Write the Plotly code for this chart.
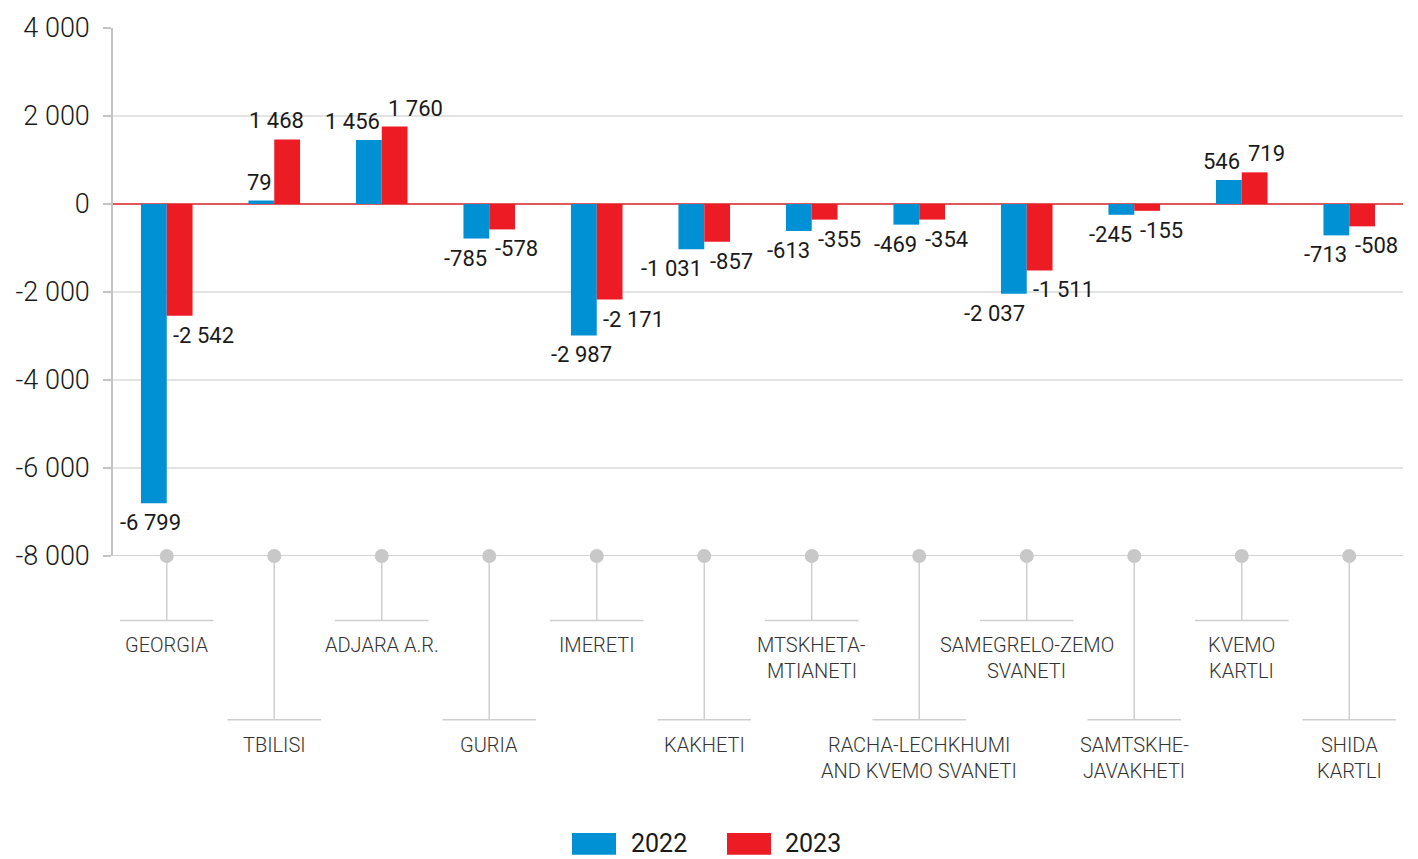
import plotly.graph_objects as go

# ---- data ----
regions = ["GEORGIA", "TBILISI", "ADJARA A.R.", "GURIA", "IMERETI", "KAKHETI",
           "MTSKHETA-<br>MTIANETI", "RACHA-LECHKHUMI<br>AND KVEMO SVANETI",
           "SAMEGRELO-ZEMO<br>SVANETI", "SAMTSKHE-<br>JAVAKHETI", "KVEMO<br>KARTLI",
           "SHIDA<br>KARTLI"]
values_2022 = [-6799, 79, 1456, -785, -2987, -1031, -613, -469, -2037, -245, 546, -713]
values_2023 = [-2542, 1468, 1760, -578, -2171, -857, -355, -354, -1511, -155, 719, -508]
series_names = ["2022", "2023"]
ytick_vals = [4000, 2000, 0, -2000, -4000, -6000, -8000]
ytick_text = ["4 000", "2 000", "0", "-2 000", "-4 000", "-6 000", "-8 000"]

# ---- style ----
BLUE = "#0091D5"
RED = "#ED1C24"
FONT = "Roboto"
TXT = "#1a1a1a"
GRID = "#e3e3e3"
AXIS = "#c4c4c4"
BAR_W = 0.24

# label placement exceptions (centered with pixel shift)
blue_center_shift = {0: -16, 4: -15}
red_center_shift = {1: 2}

def fmt(v):
    s = f"{abs(v):,}".replace(",", " ")
    return ("-" if v < 0 else "") + s

xs = list(range(len(regions)))
fig = go.Figure()
fig.add_trace(go.Bar(x=xs, y=values_2022, name=series_names[0], marker_color=BLUE,
                     width=BAR_W, offset=-BAR_W, marker_line_width=0, showlegend=False))
fig.add_trace(go.Bar(x=xs, y=values_2023, name=series_names[1], marker_color=RED,
                     width=BAR_W, offset=0, marker_line_width=0, showlegend=False))

# dots on the category axis
fig.add_trace(go.Scatter(x=xs, y=[ytick_vals[-1]] * len(xs), mode="markers",
                         marker=dict(color="#c8c8c8", size=14), cliponaxis=False,
                         hoverinfo="skip", showlegend=False))

annotations = []
# value labels
for i in xs:
    for series, vals in ((0, values_2022), (1, values_2023)):
        v = vals[i]
        ya = "top" if v < 0 else "bottom"
        ys = -5 if v < 0 else 4
        if series == 0:
            if i in blue_center_shift:
                xa, xsft = "center", blue_center_shift[i]
            else:
                xa, xsft = "right", 0
        else:
            if i in red_center_shift:
                xa, xsft = "center", red_center_shift[i]
            else:
                xa, xsft = "left", 4
        annotations.append(dict(x=i, y=v, xref="x", yref="y", text=fmt(v), showarrow=False,
                                xanchor=xa, yanchor=ya, xshift=xsft, yshift=ys,
                                font=dict(family=FONT, size=22, color=TXT, weight=400)))

# category labels with leader lines
shapes = []
plot_h = 532.0
for i, name in enumerate(regions):
    low = i % 2 == 1
    drop = 165 if low else 65
    yline = -drop / plot_h
    shapes.append(dict(type="line", xref="x", yref="paper", x0=i, x1=i, y0=0, y1=yline,
                       line=dict(color="#cfcfcf", width=1.5), layer="below"))
    shapes.append(dict(type="line", xref="x", yref="paper", x0=i - 0.435, x1=i + 0.435,
                       y0=yline, y1=yline, line=dict(color="#cfcfcf", width=1.5)))
    for k, line in enumerate(name.split("<br>")):
        annotations.append(dict(x=i, y=0, xref="x", yref="paper", text=line, showarrow=False,
                                xanchor="center", yanchor="middle",
                                yshift=-(drop + 24 + 26 * k),
                                font=dict(family=FONT, size=20, color="#333333", weight=300)))

# custom legend
def px2x(p):
    return (p - 113) / 1290.0

def py2y(p):
    return (557 - p) / plot_h

for color, name, x0, x1, tx in ((BLUE, series_names[0], 572, 616, 629),
                                 (RED, series_names[1], 727, 771, 783)):
    shapes.append(dict(type="rect", xref="paper", yref="paper", x0=px2x(x0), x1=px2x(x1),
                       y0=py2y(858), y1=py2y(836), fillcolor=color, line=dict(width=0)))
    annotations.append(dict(x=px2x(tx), y=py2y(847), xref="paper", yref="paper", text=name,
                            showarrow=False, xanchor="left", yanchor="middle",
                            font=dict(family=FONT, size=25, color=TXT, weight=400)))

# bottom axis line
shapes.append(dict(type="line", xref="paper", yref="y", x0=0, x1=1, y0=-8000, y1=-8000,
                   line=dict(color=AXIS, width=1.5), layer="below"))

fig.update_layout(
    width=1418, height=859,
    margin=dict(l=113, r=15, t=24, b=303),
    paper_bgcolor="white", plot_bgcolor="white",
    barmode="overlay",
    shapes=shapes, annotations=annotations,
    xaxis=dict(range=[-0.5, len(regions) - 0.5], showticklabels=False, showgrid=False,
               zeroline=False, showline=False, ticks=""),
    yaxis=dict(range=[-8000, 4000], tickvals=ytick_vals, ticktext=ytick_text,
               tickfont=dict(family=FONT, size=27, color=TXT, weight=300),
               showgrid=True, gridcolor=GRID, gridwidth=1.5,
               zeroline=True, zerolinecolor="#e0575d", zerolinewidth=1.5,
               showline=True, linecolor=AXIS, linewidth=1.5,
               ticks="outside", ticklen=8, tickcolor=AXIS, tickwidth=1.5,
               ticklabelstandoff=8),
)

fig.write_html("out.html", config={"displayModeBar": False},
               post_script="document.body.style.margin='0';document.body.style.overflow='hidden';")
